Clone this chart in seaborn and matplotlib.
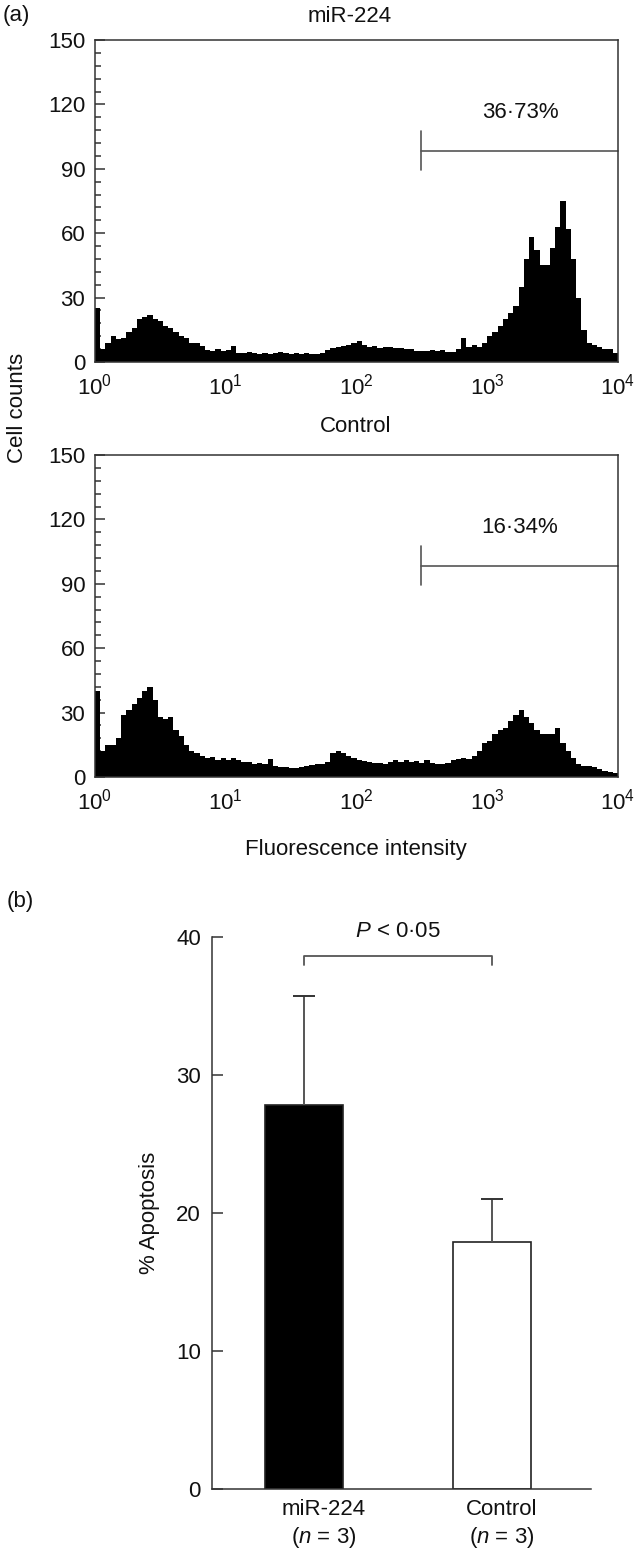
import numpy as np
import pandas as pd
import matplotlib
matplotlib.use("Agg")
import matplotlib.pyplot as plt
import matplotlib.transforms as mtransforms
from matplotlib.ticker import MultipleLocator, NullLocator
import seaborn as sns

# ---- values ----
DECADE_TICKS = [1, 10, 100, 1000, 10000]
DECADE_LABELS = ["$10^{0}$", "$10^{1}$", "$10^{2}$", "$10^{3}$", "$10^{4}$"]
COUNT_TICKS = [0, 30, 60, 90, 120, 150]

# cell counts per channel, 100 log-spaced channels from 10^0 to 10^4
MIR224_COUNTS = [
    25, 6, 9, 12, 10.5, 11, 14, 16, 20, 21,
    22, 20, 19, 17, 16, 14, 12, 11, 9, 9,
    7.5, 5.5, 5, 6, 5, 5.5, 7.5, 4, 4, 4.5,
    4, 3.5, 4, 3.5, 4, 4.5, 4, 3.5, 4, 3.5,
    4, 3.7, 3.7, 4, 5.5, 6.5, 7, 7.5, 8, 9,
    10, 8, 7, 7.5, 6.5, 7, 7, 6.5, 6.5, 6,
    6, 5, 5, 5, 5.5, 5, 5.5, 4.5, 4.5, 6,
    11, 7, 8, 7, 9, 12, 14, 17, 20, 23,
    26, 35, 48, 58, 52, 45, 45, 53, 63, 75,
    62, 48, 30, 15, 9, 8, 7, 6, 6, 4,
]
CONTROL_COUNTS = [
    40, 12, 15, 15, 18, 29, 31, 34, 37, 40,
    42, 36, 28, 27, 28, 22, 19, 15, 12, 11,
    10, 9, 9.5, 8, 9, 8, 9, 8, 7, 7,
    6, 6.5, 6, 8.5, 5, 4.5, 4.5, 4, 4, 4.5,
    5, 5.5, 6, 6, 7, 11, 12, 11, 10, 9,
    8, 7.5, 7, 6.5, 6.5, 6, 7, 8, 7, 8,
    7, 7.5, 6.5, 8, 6.5, 6, 6, 6.5, 8, 8.5,
    9, 8.5, 10, 12, 16, 17, 20, 22, 23, 26,
    29, 31, 28, 25, 22, 20, 20, 20, 23, 16,
    12, 9, 6, 5, 5, 4.5, 3.5, 3, 2.5, 2,
]

GATE_START = 310
GATE_END = 10000
GATE_LEVEL = 98.4
GATE_TEXT_POS = (1780, 116)
MIR224_GATE = "36·73%"
CONTROL_GATE = "16·34%"

GROUPS = ["miR-224\n($n$ = 3)", "Control\n($n$ = 3)"]
APOPTOSIS_MEAN = [27.8, 17.9]
APOPTOSIS_SD = [7.9, 3.1]
APOPTOSIS_TICKS = [0, 10, 20, 30, 40]
P_TEXT = "$P$ < 0·05"
BRACKET_Y = 38.6

# ---- style ----
sns.set_theme(style="ticks")
plt.rcParams["font.family"] = ["Liberation Sans", "DejaVu Sans"]
plt.rcParams["mathtext.fontset"] = "custom"
plt.rcParams["mathtext.rm"] = "Liberation Sans"
plt.rcParams["mathtext.it"] = "Liberation Sans:italic"
plt.rcParams["axes.edgecolor"] = "#333333"
plt.rcParams["axes.linewidth"] = 1.1
plt.rcParams["text.color"] = "#111111"
plt.rcParams["xtick.color"] = "#333333"
plt.rcParams["ytick.color"] = "#333333"
plt.rcParams["xtick.labelcolor"] = "#111111"
plt.rcParams["ytick.labelcolor"] = "#111111"

FS = 16
W, H = 634, 1548
LINE = "#555555"


def fx(px):
    return px / W


def fy(py):
    return 1 - py / H


def draw_histogram(ax, counts, gate_text):
    n = len(counts)
    # channel centres, one per log-spaced bin
    df = pd.DataFrame({
        "channel": 10 ** ((np.arange(n) + 0.5) * 4 / n),
        "count": np.asarray(counts, dtype=float),
    })
    sns.histplot(data=df, x="channel", weights="count", bins=n, binrange=(0, 4),
                 log_scale=True, element="step", fill=True, color="black",
                 alpha=1, linewidth=0, ax=ax)
    ax.set_xlim(1, 1e4)
    ax.set_ylim(0, 150)
    ax.set_xticks(DECADE_TICKS)
    ax.set_xticklabels(DECADE_LABELS, fontsize=FS)
    ax.xaxis.set_minor_locator(NullLocator())
    ax.set_yticks(COUNT_TICKS)
    ax.set_yticklabels([str(t) for t in COUNT_TICKS], fontsize=FS)
    ax.yaxis.set_minor_locator(MultipleLocator(6))
    ax.tick_params(axis="x", which="both", length=0, pad=8)
    ax.tick_params(axis="y", which="major", direction="in", length=7, width=1.1, pad=7)
    ax.tick_params(axis="y", which="minor", direction="in", length=4, width=1.1)
    ax.set_xlabel("")
    ax.set_ylabel("")
    for side in ["top", "right"]:
        ax.spines[side].set_visible(True)

    # gate marker
    ax.plot([GATE_START, GATE_END], [GATE_LEVEL, GATE_LEVEL], color=LINE, lw=1.2, clip_on=False)
    ax.plot([GATE_START, GATE_START], [GATE_LEVEL - 9, GATE_LEVEL + 9], color=LINE, lw=1.2)
    ax.text(GATE_TEXT_POS[0], GATE_TEXT_POS[1], gate_text, ha="center", va="center", fontsize=FS)


fig = plt.figure(figsize=(W / 100, H / 100), dpi=100)

ax_top = fig.add_axes([fx(95), fy(362), fx(618) - fx(95), fy(40) - fy(362)])
ax_bot = fig.add_axes([fx(95), fy(777), fx(618) - fx(95), fy(455) - fy(777)])
ax_bar = fig.add_axes([fx(212), fy(1489), fx(591) - fx(212), fy(937) - fy(1489)])

draw_histogram(ax_top, MIR224_COUNTS, MIR224_GATE)
draw_histogram(ax_bot, CONTROL_COUNTS, CONTROL_GATE)

fig.text(fx(3), fy(16), "(a)", ha="left", va="center", fontsize=FS)
fig.text(fx(350), fy(16), "miR-224", ha="center", va="center", fontsize=FS)
fig.text(fx(356), fy(427), "Control", ha="center", va="center", fontsize=FS)
fig.text(fx(356), fy(849), "Fluorescence intensity", ha="center", va="center", fontsize=FS)
fig.text(fx(18), fy(408), "Cell counts", ha="center", va="center", rotation=90, fontsize=FS)

# ---- (b) apoptosis bars ----
bars = pd.DataFrame({"group": GROUPS, "apoptosis": APOPTOSIS_MEAN})
sns.barplot(data=bars, x="group", y="apoptosis", hue="group", palette=["black", "white"],
            edgecolor="#222222", linewidth=1.2, width=0.415, legend=False,
            errorbar=None, ax=ax_bar)
xpos = np.arange(len(GROUPS))
tops = np.array(APOPTOSIS_MEAN) + np.array(APOPTOSIS_SD)
ax_bar.vlines(xpos, APOPTOSIS_MEAN, tops, color=LINE, lw=1.4, zorder=1)
ax_bar.hlines(tops, xpos - 0.06, xpos + 0.06, color="#333333", lw=1.4)

ax_bar.plot([0, 0, 1, 1], [BRACKET_Y - 0.6, BRACKET_Y, BRACKET_Y, BRACKET_Y - 0.6],
            color=LINE, lw=1.3, clip_on=False)
ax_bar.text(0.5, 40.4, P_TEXT, ha="center", va="center", fontsize=FS, clip_on=False)

ax_bar.set_xlim(-0.489, 1.527)
ax_bar.set_ylim(0, 40)
ax_bar.set_yticks(APOPTOSIS_TICKS)
ax_bar.set_yticklabels([str(t) for t in APOPTOSIS_TICKS], fontsize=FS)
ax_bar.tick_params(axis="y", direction="in", length=8, width=1.1, pad=8)
ax_bar.tick_params(axis="x", length=0, pad=7, labelsize=FS)
ax_bar.set_xlabel("")
ax_bar.set_ylabel("")
sns.despine(ax=ax_bar)

for lab, shift in zip(ax_bar.get_xticklabels(), [20, 10]):
    lab.set_linespacing(1.3)
    lab.set_transform(lab.get_transform() + mtransforms.ScaledTranslation(shift / 100, 0, fig.dpi_scale_trans))

fig.text(fx(7), fy(901), "(b)", ha="left", va="center", fontsize=FS)
fig.text(fx(150), fy(1213), "% Apoptosis", ha="center", va="center", rotation=90, fontsize=FS)

fig.savefig("out.png", dpi=100)
